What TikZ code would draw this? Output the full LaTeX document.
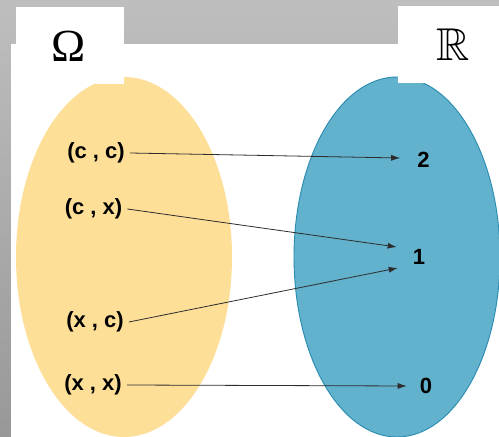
\documentclass[tikz,border=0pt]{standalone}
\usepackage{amssymb}
\usepackage{fontspec}
\newfontfamily\labelfont{Liberation Sans}
\newfontfamily\omegafont{Liberation Serif}
\usetikzlibrary{arrows.meta}
\definecolor{bgtop}{RGB}{190,190,190}
\definecolor{bgbot}{RGB}{152,152,152}
\definecolor{yellowset}{RGB}{254,223,152}
\definecolor{blueset}{RGB}{98,177,205}
\definecolor{blueedge}{RGB}{40,140,176}
\definecolor{arrowgray}{RGB}{45,45,45}
\tikzset{
  elem/.style={font=\labelfont\bfseries\fontsize{22}{24}\selectfont, text=black, inner xsep=5pt, inner ysep=0pt},
  mapsto/.style={draw=arrowgray, line width=0.8pt, -{Latex[length=9pt,width=6pt]}},
  setname/.style={inner sep=0pt}
}
\begin{document}
\begin{tikzpicture}[x=1pt,y=1pt]
\useasboundingbox (0,0) rectangle (499,437);
% background
\shade[top color=bgtop, bottom color=bgbot] (0,0) rectangle (499,437);
\fill[white] (11,0) rectangle (499,393);
% sets
\fill[yellowset] (124,180) ellipse [x radius=108, y radius=180];
\filldraw[fill=blueset, draw=blueedge, line width=0.9pt] (397,180) ellipse [x radius=103, y radius=180];
% label boxes
\fill[white] (16,353) rectangle (124,430);
\fill[white] (398,354) rectangle (499,431);
\node[setname, font=\omegafont\fontsize{46}{50}\selectfont] (omega) at (69,391) {Ω};
\node[setname, font=\fontsize{46}{50}\selectfont] (reals) at (453,392) {$\mathbb{R}$};
% elements
\node[elem] (cc) at (96,284) {(c , c)};
\node[elem] (cx) at (93.5,228) {(c , x)};
\node[elem] (xc) at (95,115) {(x , c)};
\node[elem] (xx) at (93,52) {(x , x)};
\node[elem] (two) at (423.5,277) {2};
\node[elem] (one) at (419,180) {1};
\node[elem] (zero) at (426,51) {0};
% maps
\draw[mapsto] (cc.east) -- ([shift={(-12,2)}]two.west);
\draw[mapsto] (cx.east) -- ([shift={(-11,10)}]one.west);
\draw[mapsto] (xc.east) -- ([shift={(-10,-11)}]one.west);
\draw[mapsto] (xx.east) -- ([shift={(-8,0)}]zero.west);
\end{tikzpicture}
\end{document}
